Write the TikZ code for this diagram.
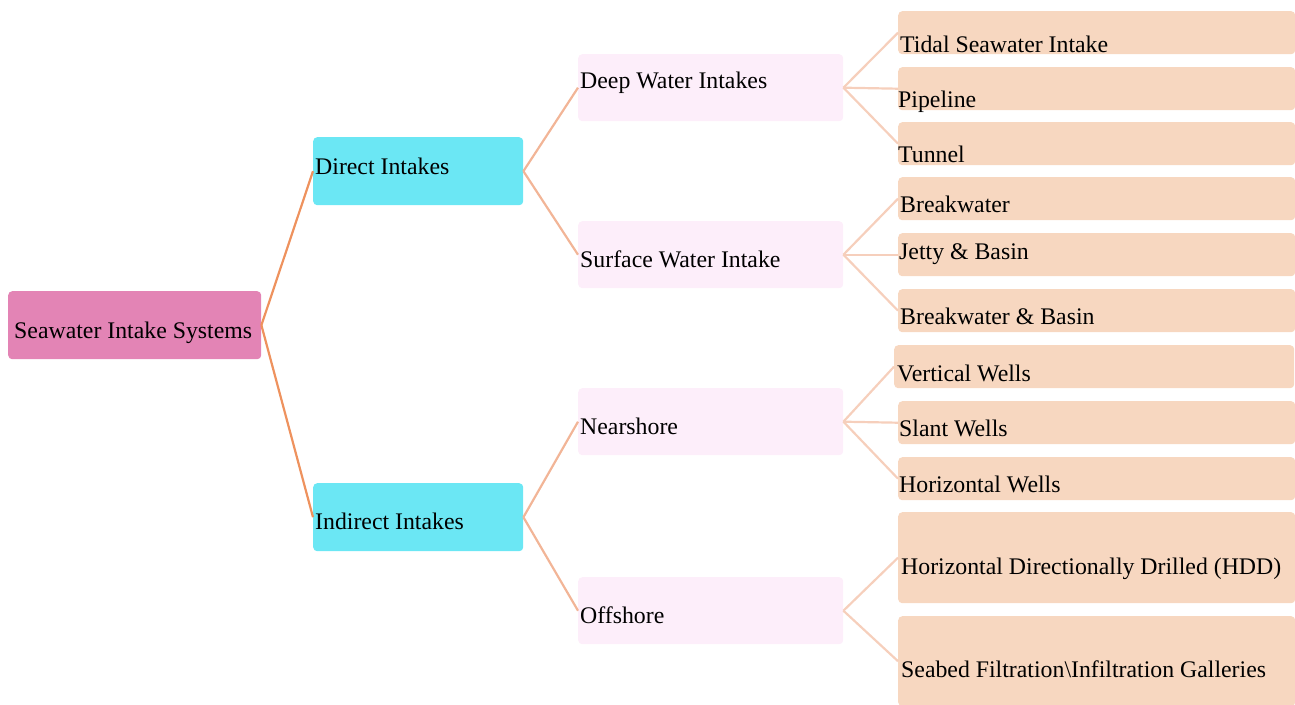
\documentclass[tikz,border=0pt]{standalone}
\usepackage{fontspec}
\setmainfont{Liberation Serif}
\usepackage{xcolor}
\definecolor{rootpink}{HTML}{E384B5}
\definecolor{intakecyan}{HTML}{6BE7F4}
\definecolor{zonepink}{HTML}{FDEEFA}
\definecolor{typepeach}{HTML}{F7D7C0}
\definecolor{edgeA}{HTML}{EE925E}
\definecolor{edgeB}{HTML}{F2B597}
\definecolor{edgeC}{HTML}{F6CFBC}

\begin{document}
\begin{tikzpicture}[x=1pt,y=-1pt]
\tikzset{box/.style={rounded corners=4pt,inner sep=0pt,anchor=north west}}
\tikzset{rootbox/.style={box,fill=rootpink}}
\tikzset{intakebox/.style={box,fill=intakecyan,minimum width=210pt,minimum height=68pt}}
\tikzset{zonebox/.style={box,fill=zonepink,minimum width=265pt,minimum height=67pt}}
\tikzset{typebox/.style={box,fill=typepeach,minimum width=397pt,minimum height=43pt}}
\tikzset{txt/.style={anchor=base west,inner sep=0pt,text=black}}
\tikzset{edgeroot/.style={draw=edgeA,line width=2.2pt}}
\tikzset{edgeintake/.style={draw=edgeB,line width=2.2pt}}
\tikzset{edgezone/.style={draw=edgeC,line width=2.2pt}}

\fontsize{23.8}{28}\selectfont

\useasboundingbox (0,0) rectangle (1295,704);

\node[rootbox,minimum width=253pt,minimum height=68pt] (root) at (8,291) {};
\node[intakebox] (direct) at (313,137) {};
\node[intakebox] (indirect) at (313,483) {};
\node[zonebox] (deep) at (578,54) {};
\node[zonebox] (surface) at (578,221) {};
\node[zonebox] (near) at (578,388) {};
\node[zonebox] (off) at (578,577) {};
\node[typebox] (tidal) at (898,11) {};
\node[typebox] (pipe) at (898,67) {};
\node[typebox] (tunnel) at (898,122) {};
\node[typebox] (bw) at (898,177) {};
\node[typebox] (jetty) at (898,233) {};
\node[typebox] (bwbasin) at (898,289) {};
\node[typebox,minimum width=400pt] (vertical) at (894,345) {};
\node[typebox] (slant) at (898,401) {};
\node[typebox] (horizontal) at (898,457) {};
\node[typebox,minimum height=91pt] (hdd) at (898,512) {};
\node[typebox,minimum height=90pt] (seabed) at (898,616) {};

\node[txt] (t-root) at (14,338) {Seawater Intake Systems};
\node[txt] (t-direct) at (315,174) {Direct Intakes};
\node[txt] (t-indirect) at (315,529) {Indirect Intakes};
\node[txt] (t-deep) at (580,88) {Deep Water Intakes};
\node[txt] (t-surface) at (580,267) {Surface Water Intake};
\node[txt] (t-near) at (580,434) {Nearshore};
\node[txt] (t-off) at (580,623) {Offshore};
\node[txt] (t-tidal) at (900,52) {Tidal Seawater Intake};
\node[txt] (t-pipe) at (898,107) {Pipeline};
\node[txt] (t-tunnel) at (898,162) {Tunnel};
\node[txt] (t-bw) at (900,212) {Breakwater};
\node[txt] (t-jetty) at (899,259) {Jetty \& Basin};
\node[txt] (t-bwbasin) at (900,324) {Breakwater \& Basin};
\node[txt] (t-vertical) at (897,381) {Vertical Wells};
\node[txt] (t-slant) at (899,436) {Slant Wells};
\node[txt] (t-horizontal) at (899,492) {Horizontal Wells};
\node[txt] (t-hdd) at (901,574) {Horizontal Directionally Drilled (HDD)};
\node[txt] (t-seabed) at (901,677) {Seabed Filtration\textbackslash Infiltration Galleries};

\draw[edgeroot] (root.east) -- (direct.west);
\draw[edgeroot] (root.east) -- (indirect.west);
\draw[edgeintake] (direct.east) -- (deep.west);
\draw[edgeintake] (direct.east) -- (surface.west);
\draw[edgeintake] (indirect.east) -- (near.west);
\draw[edgeintake] (indirect.east) -- (off.west);
\draw[edgezone] (deep.east) -- (tidal.west);
\draw[edgezone] (deep.east) -- (pipe.west);
\draw[edgezone] (deep.east) -- (tunnel.west);
\draw[edgezone] (surface.east) -- (bw.west);
\draw[edgezone] (surface.east) -- (jetty.west);
\draw[edgezone] (surface.east) -- (bwbasin.west);
\draw[edgezone] (near.east) -- (vertical.west);
\draw[edgezone] (near.east) -- (slant.west);
\draw[edgezone] (near.east) -- (horizontal.west);
\draw[edgezone] (off.east) -- (hdd.west);
\draw[edgezone] (off.east) -- (seabed.west);

\end{tikzpicture}
\end{document}
